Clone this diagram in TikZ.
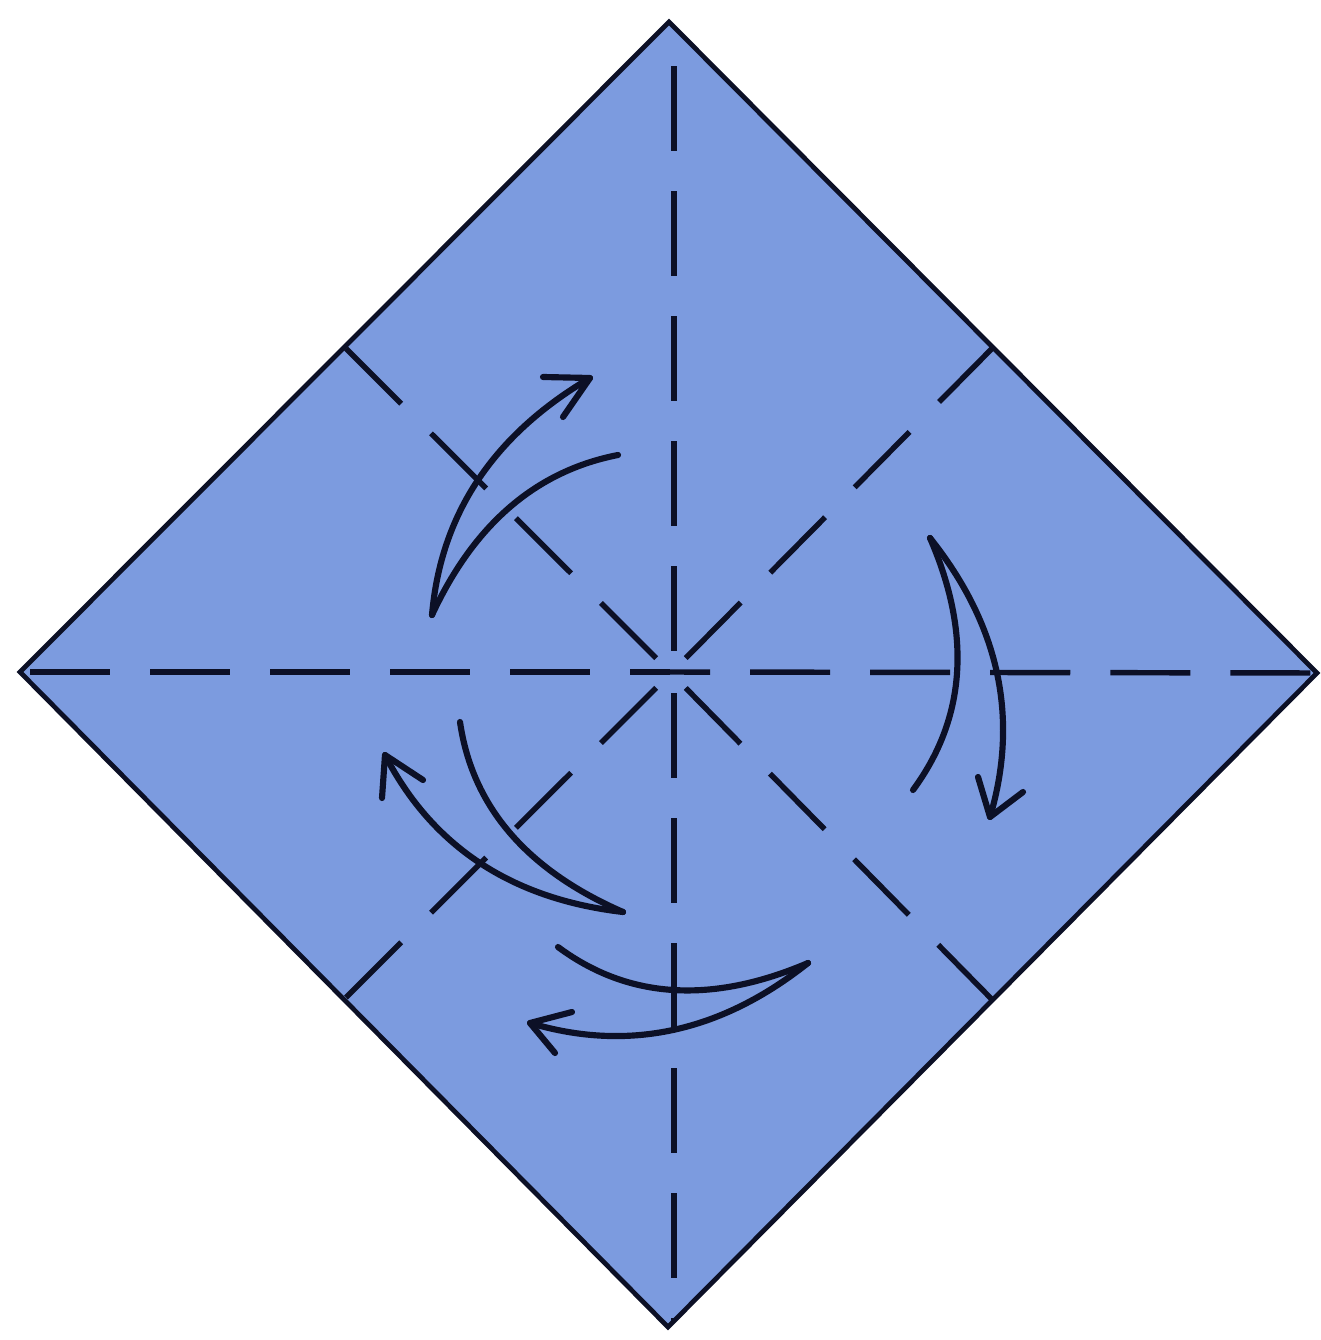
\documentclass[tikz,border=0pt]{standalone}
\usetikzlibrary{calc}
\definecolor{paper}{RGB}{124,155,223}
\definecolor{ink}{RGB}{12,16,38}
\begin{document}
\begin{tikzpicture}[x=0.01cm,y=-0.01cm,
  edge/.style={draw=ink,line width=1.35pt,line join=miter},
  crease/.style={draw=ink,line width=1.55pt},
  hcrease/.style={crease,dash pattern=on 0.8cm off 0.4cm,dash phase=0.4cm},
  vcrease/.style={crease,dash pattern=on 0.85cm off 0.4cm,dash phase=1.04cm},
  dcrease/.style={crease,dash pattern=on 0.78cm off 0.42cm,dash phase=0.99cm},
  foldline/.style={draw=ink,line width=1.75pt,line cap=round,line join=round}]
\fill[white] (0,0) rectangle (1320,1340);
\useasboundingbox (0,0) rectangle (1320,1340);
% diamond corners
\coordinate (T) at (669,22);
\coordinate (R) at (1317,673);
\coordinate (B) at (668,1327);
\coordinate (L) at (20,672);
\coordinate (C) at (671,673);
\coordinate (TL) at ($(T)!0.5!(L)$);
\coordinate (TR) at ($(T)!0.5!(R)$);
\coordinate (BR) at ($(B)!0.5!(R)$);
\coordinate (BL) at ($(B)!0.5!(L)$);
\fill[paper] (T) -- (R) -- (B) -- (L) -- cycle;
% creases
\coordinate (HC) at (670,672);
\coordinate (VC) at (674,672);
\coordinate (VT) at (674,22);
\coordinate (VB) at (674,1327);
\begin{scope}
\clip (T) -- (R) -- (B) -- (L) -- cycle;
\draw[hcrease] (HC) -- (L);
\draw[hcrease] (HC) -- (R);
\draw[vcrease] (VC) -- (VT);
\draw[vcrease] (VC) -- (VB);
\draw[dcrease] (C) -- (TL);
\draw[dcrease] (C) -- (TR);
\draw[dcrease] (C) -- (BR);
\draw[dcrease] (C) -- (BL);
\end{scope}
% outline
\draw[edge] (T) -- (R) -- (B) -- (L) -- cycle;
% arrow upper left
\draw[foldline] (432,615) .. controls (440.7,514) and (493.3,435) .. (590,378);
\draw[foldline] (432,615) .. controls (474,524.3) and (536,471) .. (618,455);
\draw[foldline] (543,377) -- (590,378) -- (563,417);
% arrow right
\draw[foldline] (930,538) .. controls (999.3,625) and (1019.3,718) .. (990,817);
\draw[foldline] (930,538) .. controls (971.7,634) and (966,718) .. (913,790);
\draw[foldline] (978,777) -- (990,817) -- (1023,792);
% arrow lower left
\draw[foldline] (623,912) .. controls (511.7,899) and (432.3,846.7) .. (385,755);
\draw[foldline] (623,912) .. controls (526.7,870) and (472.3,806.7) .. (460,722);
\draw[foldline] (382,798) -- (385,755) -- (423,780);
% arrow bottom
\draw[foldline] (808,963) .. controls (720.7,1032.3) and (628,1052.3) .. (530,1023);
\draw[foldline] (808,963) .. controls (711.3,1004.3) and (628,999) .. (558,947);
\draw[foldline] (572,1012) -- (530,1023) -- (555,1053);
\end{tikzpicture}
\end{document}
